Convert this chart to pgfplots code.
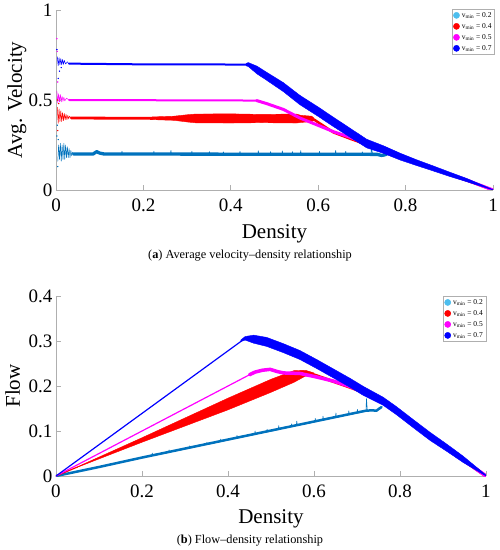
\documentclass[border=0pt]{standalone}
\usepackage{fontspec}
\setmainfont{Liberation Serif}
\usepackage{pgfplots}
\pgfplotsset{compat=1.18}
\definecolor{cA}{RGB}{0,114,189}
\definecolor{cAl}{RGB}{77,190,238}
\definecolor{cR}{RGB}{255,0,0}
\definecolor{cM}{RGB}{255,0,255}
\definecolor{cB}{RGB}{0,0,255}
\definecolor{axg}{RGB}{175,175,175}
\pgfplotsset{
  myaxis/.style={
    scale only axis,
    axis x line=bottom, axis y line=left,
    axis line style={-, draw=axg, line width=0.8pt},
    every tick/.style={draw=axg, line width=0.8pt},
    tick align=inside,
    major tick length=5pt,
    xmin=0, xmax=1, ymin=0,
    xtick={0,0.2,0.4,0.6,0.8,1},
    tick label style={font=\fontsize{19}{19}\selectfont, black},
    /pgf/number format/assume math mode=true,
    xticklabel style={yshift=-5pt},
    label style={font=\fontsize{21}{21}\selectfont},
    legend style={font=\fontsize{7.5}{8.5}\selectfont, draw=axg, fill=white, anchor=north east, inner sep=1pt, row sep=0.5pt, cells={anchor=west}},
    legend cell align=left,
    every axis plot/.append style={line cap=round, line join=round},
  },
}
\begin{document}
\begin{tikzpicture}
\useasboundingbox (0,0) rectangle (500pt,550pt);
% ---------------- top: velocity
\begin{axis}[myaxis, at={(56pt,360pt)}, anchor=south west, width=437pt, height=180pt,
  ymax=1, ytick={0,0.5,1},
  xlabel={Density}, ylabel={Avg. Velocity},
  xlabel style={at={([yshift=-49pt]axis description cs:0.5,0)}, anchor=base},
  ylabel style={at={([xshift=-34pt]axis description cs:0,0.5)}, anchor=base},
  legend style={at={(1.004,1.006)}}]
\addlegendimage{legend image code/.code={\fill[cAl] (4pt,0pt) circle (3.1pt);}}
\addlegendentry{v\textsubscript{min} = 0.2}
\addlegendimage{legend image code/.code={\fill[cR] (4pt,0pt) circle (3.1pt);}}
\addlegendentry{v\textsubscript{min} = 0.4}
\addlegendimage{legend image code/.code={\fill[cM] (4pt,0pt) circle (3.1pt);}}
\addlegendentry{v\textsubscript{min} = 0.5}
\addlegendimage{legend image code/.code={\fill[cB] (4pt,0pt) circle (3.1pt);}}
\addlegendentry{v\textsubscript{min} = 0.7}
% cyan 0.2
\addplot[forget plot, cA, line width=0.5pt] coordinates {(0.004,0.16)(0.006,0.25)(0.008,0.17)(0.010,0.26)(0.012,0.16)(0.014,0.25)(0.016,0.17)(0.018,0.26)(0.020,0.17)(0.022,0.25)(0.024,0.18)(0.026,0.24)(0.028,0.18)(0.030,0.23)(0.032,0.18)(0.034,0.22)(0.036,0.19)(0.038,0.21)(0.040,0.2)};
\addplot[forget plot, cA, line width=3.3pt] coordinates {(0.04,0.2)(0.085,0.2)(0.093,0.213)(0.1,0.205)(0.11,0.2)(0.735,0.198)(0.745,0.192)(0.752,0.195)(0.757,0.2)};
\addplot[forget plot, cA, line width=0.6pt] coordinates {(0.15,0.2)(0.151,0.215)(0.152,0.2)(0.223,0.2)(0.224,0.215)(0.225,0.2)(0.262,0.2)(0.263,0.22)(0.264,0.2)(0.31,0.2)(0.311,0.215)(0.312,0.2)(0.35,0.2)(0.351,0.213)(0.352,0.2)(0.382,0.2)(0.383,0.212)(0.384,0.2)(0.42,0.2)(0.421,0.214)(0.422,0.2)(0.462,0.2)(0.463,0.218)(0.464,0.2)(0.49,0.2)(0.491,0.213)(0.492,0.2)(0.517,0.2)(0.518,0.217)(0.519,0.2)(0.54,0.2)(0.541,0.213)(0.542,0.2)(0.559,0.2)(0.56,0.218)(0.561,0.2)(0.602,0.2)(0.603,0.214)(0.604,0.2)(0.639,0.2)(0.64,0.22)(0.641,0.2)(0.662,0.2)(0.663,0.215)(0.664,0.2)(0.70,0.2)(0.701,0.212)(0.702,0.2)(0.721,0.2)(0.722,0.245)(0.724,0.2)};
% red 0.4
\addplot[forget plot, cR, line width=0.5pt] coordinates {(0.003,0.46)(0.005,0.37)(0.007,0.45)(0.009,0.38)(0.011,0.44)(0.013,0.38)(0.015,0.43)(0.017,0.385)(0.019,0.425)(0.021,0.39)(0.023,0.42)(0.025,0.39)(0.027,0.415)(0.029,0.395)(0.031,0.41)(0.035,0.4)};
\addplot[forget plot, cR, line width=2.8pt] coordinates {(0.035,0.4)(0.22,0.398)};
\addplot[forget plot, cR, fill=cR, line width=0.4pt] coordinates {(0.22,0.406)(0.27,0.41)(0.3,0.418)(0.32,0.422)(0.4,0.423)(0.47,0.42)(0.55,0.422)(0.56,0.415)(0.585,0.41)(0.59,0.40)(0.59,0.385)(0.585,0.38)(0.56,0.375)(0.55,0.372)(0.47,0.374)(0.4,0.372)(0.32,0.373)(0.3,0.378)(0.27,0.387)(0.22,0.391)} -- cycle;
\addplot[forget plot, cR, line width=2.5pt] coordinates {(0.59,0.392)(0.61,0.36)(0.635,0.32)(0.673,0.285)(0.711,0.252)(0.75,0.22)(0.787,0.183)(0.825,0.15)(0.863,0.118)(0.9,0.086)(0.94,0.053)(1,0)};
% magenta 0.5
\addplot[forget plot, cM, line width=0.5pt] coordinates {(0.002,0.55)(0.004,0.485)(0.006,0.535)(0.008,0.49)(0.01,0.53)(0.012,0.49)(0.014,0.52)(0.016,0.493)(0.018,0.515)(0.02,0.495)(0.024,0.51)(0.03,0.5)};
\addplot[forget plot, cM, line width=2pt] coordinates {(0.03,0.5)(0.459,0.497)};
\addplot[forget plot, cM, line width=3pt] coordinates {(0.459,0.497)(0.482,0.48)(0.52,0.448)(0.558,0.40)(0.597,0.362)(0.635,0.324)(0.673,0.293)(0.70,0.268)(0.711,0.255)(0.75,0.222)(0.787,0.185)(0.825,0.152)(0.863,0.12)(0.9,0.088)(0.94,0.055)(1,0)};
% blue 0.7
\addplot[forget plot, cB, line width=0.5pt] coordinates {(0.003,0.74)(0.005,0.69)(0.007,0.735)(0.009,0.695)(0.011,0.73)(0.013,0.695)(0.015,0.725)(0.017,0.698)(0.019,0.72)(0.022,0.70)(0.026,0.712)(0.03,0.70)};
\addplot[forget plot, cB, line width=2pt] coordinates {(0.03,0.702)(0.2,0.698)(0.44,0.697)};
\addplot[forget plot, cB, fill=cB, line width=0.4pt] coordinates {(0.435,0.703)(0.44,0.708)(0.46,0.688)(0.48,0.657)(0.52,0.597)(0.558,0.526)(0.6,0.461)(0.635,0.404)(0.673,0.343)(0.711,0.282)(0.75,0.245)(0.787,0.205)(0.825,0.168)(0.863,0.134)(0.9,0.1)(0.94,0.064)(1,0.002)(1,0)(0.94,0.046)(0.9,0.076)(0.863,0.106)(0.825,0.136)(0.787,0.167)(0.75,0.203)(0.711,0.234)(0.673,0.293)(0.635,0.352)(0.6,0.409)(0.558,0.474)(0.52,0.547)(0.48,0.613)(0.46,0.645)(0.44,0.686)(0.435,0.69)} -- cycle;
% scattered points near zero density
\addplot[forget plot, only marks, mark=*, mark size=0.5pt, cM] coordinates {(0.002,0.84)(0.003,0.77)(0.004,0.6)};
\addplot[forget plot, only marks, mark=*, mark size=0.5pt, cB] coordinates {(0.002,0.78)(0.005,0.62)(0.008,0.66)(0.012,0.68)};
\addplot[forget plot, only marks, mark=*, mark size=0.5pt, cR] coordinates {(0.003,0.5)(0.004,0.33)(0.006,0.48)};
\addplot[forget plot, only marks, mark=*, mark size=0.5pt, cA] coordinates {(0.002,0.3)(0.003,0.36)(0.005,0.28)(0.004,0.13)};
\end{axis}
% ---------------- bottom: flow
\begin{axis}[myaxis, at={(56pt,74pt)}, anchor=south west, width=430pt, height=180pt,
  ymax=0.4, ytick={0,0.1,0.2,0.3,0.4},
  xlabel={Density}, ylabel={Flow},
  xlabel style={at={([yshift=-47pt]axis description cs:0.5,0)}, anchor=base},
  ylabel style={at={([xshift=-36pt]axis description cs:0,0.5)}, anchor=base},
  legend style={at={(1,1)}}]
\addlegendimage{legend image code/.code={\fill[cAl] (4pt,0pt) circle (3.1pt);}}
\addlegendentry{v\textsubscript{min} = 0.2}
\addlegendimage{legend image code/.code={\fill[cR] (4pt,0pt) circle (3.1pt);}}
\addlegendentry{v\textsubscript{min} = 0.4}
\addlegendimage{legend image code/.code={\fill[cM] (4pt,0pt) circle (3.1pt);}}
\addlegendentry{v\textsubscript{min} = 0.5}
\addlegendimage{legend image code/.code={\fill[cB] (4pt,0pt) circle (3.1pt);}}
\addlegendentry{v\textsubscript{min} = 0.7}
% cyan
\addplot[forget plot, cA, line width=2.5pt] coordinates {(0,0)(0.1,0.02)(0.2,0.041)(0.3,0.061)(0.4,0.081)(0.5,0.101)(0.6,0.121)(0.7,0.141)(0.72,0.145)(0.735,0.146)(0.745,0.145)(0.752,0.15)(0.757,0.153)};
\addplot[forget plot, cA, line width=0.6pt] coordinates {(0.223,0.045)(0.224,0.051)(0.225,0.045)(0.262,0.052)(0.263,0.058)(0.264,0.053)(0.31,0.062)(0.311,0.067)(0.312,0.062)(0.35,0.07)(0.351,0.075)(0.352,0.07)(0.382,0.076)(0.383,0.082)(0.384,0.077)(0.42,0.084)(0.421,0.09)(0.422,0.084)(0.462,0.092)(0.463,0.1)(0.464,0.093)(0.49,0.098)(0.491,0.104)(0.492,0.098)(0.517,0.103)(0.518,0.112)(0.519,0.104)(0.547,0.109)(0.548,0.116)(0.549,0.11)(0.559,0.112)(0.56,0.122)(0.561,0.112)(0.602,0.12)(0.603,0.128)(0.604,0.121)(0.62,0.124)(0.621,0.133)(0.622,0.124)(0.65,0.13)(0.651,0.14)(0.652,0.13)(0.68,0.136)(0.681,0.145)(0.682,0.136)(0.70,0.14)(0.701,0.148)(0.702,0.14)(0.721,0.144)(0.722,0.172)(0.724,0.145)};
% red
\addplot[forget plot, cR, line width=1.2pt] coordinates {(0,0)(0.05,0.02)};
\addplot[forget plot, cR, fill=cR, line width=0.4pt] coordinates {(0.05,0.0205)(0.1,0.042)(0.2,0.085)(0.3,0.129)(0.4,0.173)(0.5,0.215)(0.553,0.234)(0.58,0.235)(0.6,0.229)(0.6,0.221)(0.58,0.222)(0.553,0.208)(0.5,0.186)(0.4,0.147)(0.3,0.111)(0.2,0.075)(0.1,0.038)(0.05,0.0195)} -- cycle;
\addplot[forget plot, cR, line width=3pt] coordinates {(0.6,0.225)(0.645,0.21)(0.684,0.197)(0.715,0.186)(0.761,0.163)(0.792,0.142)(0.83,0.115)(0.87,0.086)(0.91,0.06)(0.947,0.035)(1,0)};
% magenta
\addplot[forget plot, cM, line width=1.2pt] coordinates {(0,0)(0.45,0.225)};
\addplot[forget plot, cM, line width=3.5pt] coordinates {(0.45,0.225)(0.463,0.231)(0.48,0.235)(0.498,0.237)(0.515,0.232)(0.529,0.229)(0.567,0.228)(0.606,0.22)(0.645,0.211)(0.684,0.199)(0.715,0.187)(0.761,0.164)(0.792,0.143)(0.83,0.116)(0.87,0.087)(0.91,0.061)(0.947,0.036)(1,0)};
% blue
\addplot[forget plot, cB, line width=1.2pt] coordinates {(0,0)(0.44,0.306)};
\addplot[forget plot, cB, fill=cB, line width=0.4pt] coordinates {(0.43,0.3025)(0.44,0.31)(0.46,0.313)(0.49,0.308)(0.529,0.294)(0.567,0.279)(0.606,0.259)(0.645,0.238)(0.684,0.217)(0.715,0.199)(0.761,0.175)(0.792,0.154)(0.83,0.126)(0.87,0.097)(0.91,0.070)(0.947,0.044)(1,0.002)(1,0)(0.947,0.030)(0.91,0.054)(0.87,0.079)(0.83,0.108)(0.792,0.136)(0.761,0.157)(0.715,0.179)(0.684,0.197)(0.645,0.218)(0.606,0.239)(0.567,0.259)(0.529,0.274)(0.49,0.288)(0.46,0.295)(0.44,0.302)(0.43,0.299)} -- cycle;
\end{axis}
\node[anchor=base, font=\fontsize{12.3}{14}\selectfont] at (250pt,291pt) {(\textbf{a}) Average velocity--density relationship};
\node[anchor=base, font=\fontsize{12.3}{14}\selectfont] at (250pt,6pt) {(\textbf{b}) Flow--density relationship};
\end{tikzpicture}
\end{document}
